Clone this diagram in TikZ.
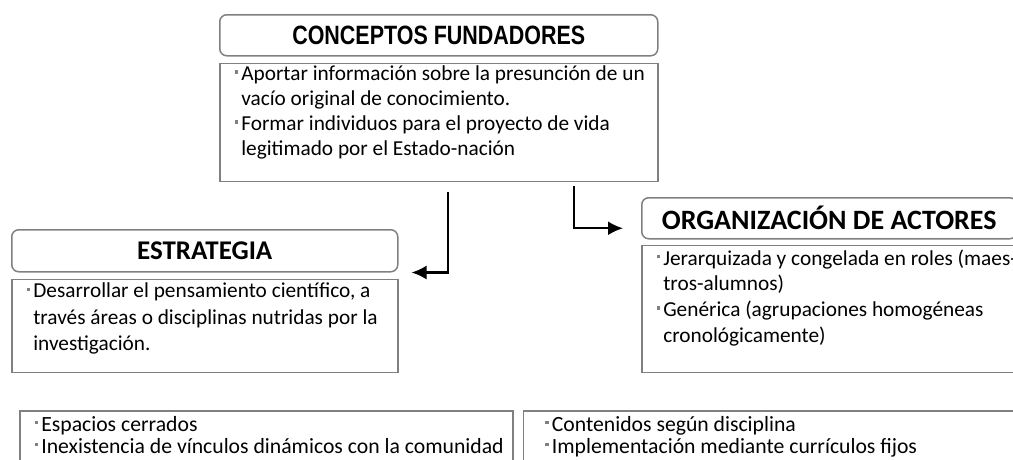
\documentclass[tikz,border=0pt]{standalone}
\usepackage{fontspec}
\setmainfont{Carlito}
\newfontfamily\narrowsans[FakeStretch=0.81]{Liberation Sans}
\usetikzlibrary{arrows.meta,positioning,calc}

\newcommand{\itm}[1]{\hbox to\hsize{\strut{\color{gray}\rule[0.32em]{3.5pt}{3.5pt}}\hspace{3pt}#1\hss}}
\newcommand{\cnt}[1]{\hbox to\hsize{\strut\hspace{6.5pt}#1\hss}}
\newcommand{\bodytext}[3]{\parbox[t][#2][t]{#1}{\fontsize{21.3}{25}\selectfont #3}}

\begin{document}
\begin{tikzpicture}[x=1pt,y=-1pt,>={Latex[length=15pt,width=14pt]},
    title box/.style={draw=gray,line width=1.5pt,rounded corners=7pt,inner sep=0pt,anchor=north west,
      font=\bfseries\fontsize{27}{30}\selectfont},
    body box/.style={draw=gray,line width=1.6pt,inner xsep=15pt,anchor=north west},
    link/.style={->,draw=black,line width=2.2pt}
    ]
  \useasboundingbox (0,0) rectangle (1013,459);
  \clip (0,0) rectangle (1013,459);

  \node[title box,minimum width=438pt,minimum height=41pt,
    font=\narrowsans\bfseries\fontsize{26.5}{30}\selectfont] (fundtitle) at (219,14) {CONCEPTOS FUNDADORES};
  \node[body box,inner ysep=0pt,below right=6pt and 0pt of fundtitle.south west] (fundbody)
    {\bodytext{408pt}{118pt}{%
      \itm{Aportar información sobre la presunción de un}
      \cnt{vacío original de conocimiento.}
      \itm{Formar individuos para el proyecto de vida}
      \cnt{legitimado por el Estado-nación}}};

  \node[title box,minimum width=386pt,minimum height=42pt] (estitle) at (11,229) {ESTRATEGIA};
  \node[body box,inner ysep=0pt,below right=6pt and 0pt of estitle.south west] (esbody)
    {\bodytext{356pt}{93pt}{\fontsize{21.3}{26.5}\selectfont
      \itm{Desarrollar el pensamiento científico, a}
      \cnt{través áreas o disciplinas nutridas por la}
      \cnt{investigación.}}};

  \node[title box,minimum width=375pt,minimum height=41pt,
    font=\bfseries\fontsize{28}{30}\selectfont] (orgtitle) at (641,197) {ORGANIZACIÓN DE ACTORES};
  \node[body box,inner ysep=2pt,below right=5pt and 0pt of orgtitle.south west] (orgbody)
    {\bodytext{345pt}{123pt}{\fontsize{21.3}{25.7}\selectfont
      \itm{Jerarquizada y congelada en roles (maes-}
      \cnt{tros-alumnos)}
      \itm{Genérica (agrupaciones homogéneas}
      \cnt{cronológicamente)}}};

  % lower row, cut by the page edge
  \node[body box,inner ysep=5pt] (espbody) at (19,410)
    {\bodytext{463pt}{60pt}{\fontsize{21.7}{22}\selectfont
      \itm{Espacios cerrados}
      \itm{Inexistencia de vínculos dinámicos con la comunidad}}};
  \node[body box,inner xsep=22pt,inner ysep=5pt,right=9pt of espbody] (contbody)
    {\bodytext{500pt}{60pt}{\fontsize{21.7}{22}\selectfont
      \itm{Contenidos según disciplina}
      \itm{Implementación mediante currículos fijos}}};

  \draw[link] ($(fundbody.south)+(9,10)$) |- ($(estitle.south east)+(13,0)$);
  \draw[link] ($(fundbody.south)+(135,4)$) |- ($(orgtitle.west)+(-18,10)$);
\end{tikzpicture}
\end{document}
